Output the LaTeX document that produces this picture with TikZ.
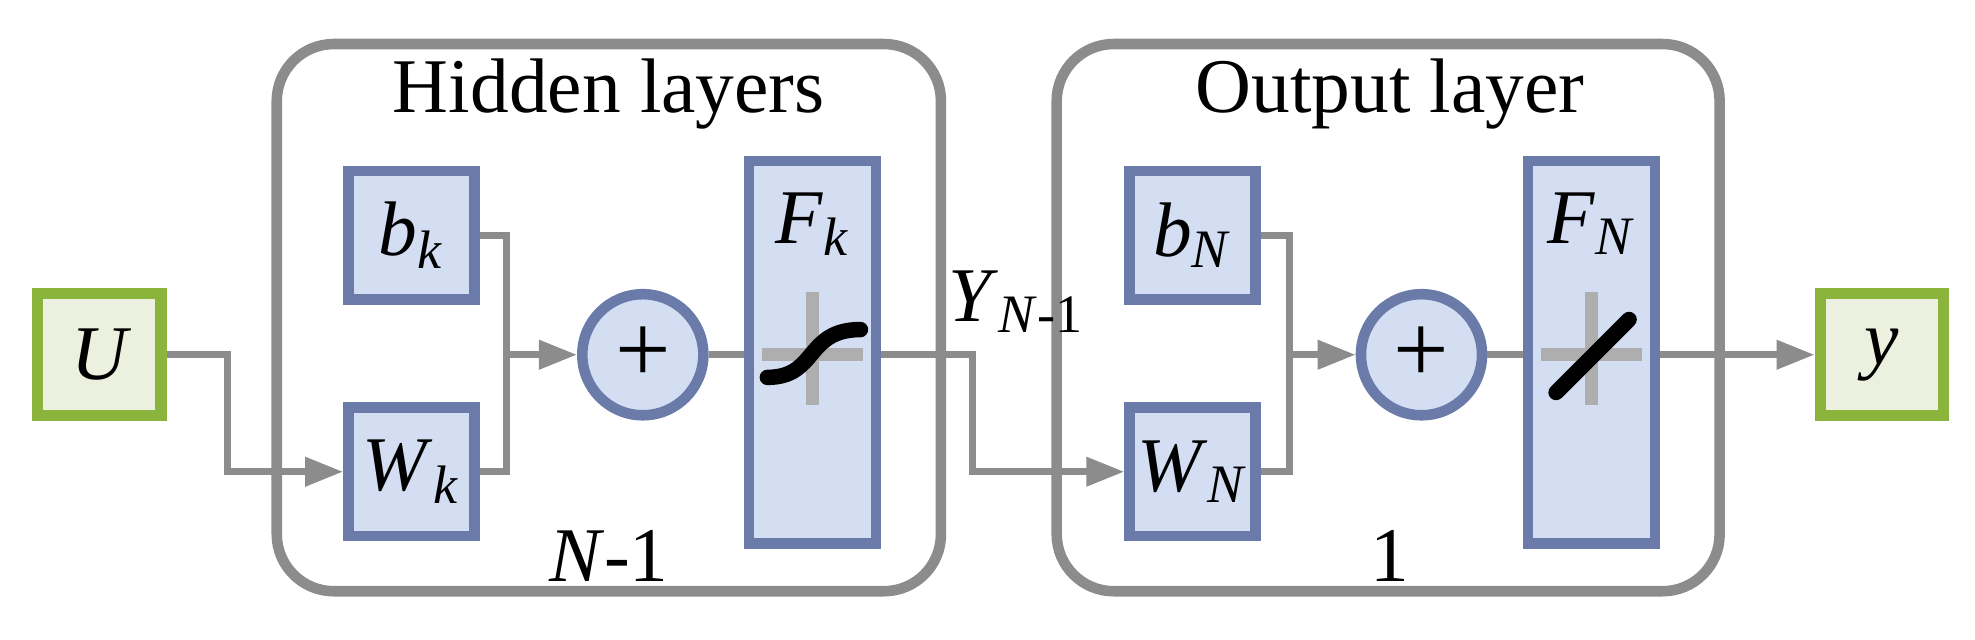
\documentclass[tikz,border=0pt]{standalone}
\usepackage{fontspec}
\setmainfont{Liberation Serif}
\usetikzlibrary{arrows.meta}
\definecolor{gborder}{HTML}{8AB43C}
\definecolor{gfill}{HTML}{EBF1DE}
\definecolor{bborder}{HTML}{6A7BAA}
\definecolor{bfill}{HTML}{D3DEF3}
\definecolor{lgray}{HTML}{8C8C8C}
\newcommand{\vl}[2]{\textit{#1}\textsubscript{\textit{#2}}}
\begin{document}
\begin{tikzpicture}[x=0.01258cm,y=-0.01258cm,
  io/.style={draw=gborder,fill=gfill,line width=3.2pt,minimum width=1.233cm,minimum height=1.22cm,inner sep=0pt,font=\fontsize{22}{26}\selectfont\itshape},
  blk/.style={draw=bborder,fill=bfill,line width=3pt,minimum width=1.258cm,minimum height=1.283cm,inner sep=0pt,font=\fontsize{22}{26}\selectfont},
  fn/.style={draw=bborder,fill=bfill,line width=3pt,minimum width=1.27cm,minimum height=3.82cm,inner sep=0pt},
  sum/.style={circle,draw=bborder,fill=bfill,line width=3pt,minimum size=1.21cm,inner sep=0pt,font=\fontsize{28}{30}\selectfont},
  layer/.style={draw=lgray,line width=3pt,rounded corners=0.57cm},
  con/.style={draw=lgray,line width=2pt},
  arr/.style={con,-{Triangle[length=0.38cm,width=0.28cm]}},
  ttl/.style={font=\fontsize{22}{26}\selectfont}]
\useasboundingbox (0,0) rectangle (1570,508);
\draw[layer] (220,35) rectangle (748,470);
\draw[layer] (840,35) rectangle (1367,470);
\node[ttl] (th) at (484,75) {Hidden layers};
\node[ttl] (to) at (1105,75) {Output layer};
\node[ttl] (n1) at (484,442) {\textit{N}-1};
\node[ttl] (one) at (1105,442) {1};
\node[io] (U) at (79,282) {U};
\node[io] (y) at (1496,282) {y};
\node[blk] (bk) at (327,187) {\vl{b}{k}};
\node[blk] (Wk) at (327,375) {\vl{W}{k}};
\node[sum] (s1) at (511,282) {+};
\node[fn] (Fk) at (646,280) {};
\node[ttl] at (646,178) {\vl{F}{k}};
\node[blk] (bN) at (948,187) {\vl{b}{N}};
\node[blk] (WN) at (948,375) {\vl{W}{N}};
\node[sum] (s2) at (1130,282) {+};
\node[fn] (FN) at (1265,280) {};
\node[ttl] at (1265,178) {\vl{F}{N}};
\node[ttl] (Y) at (808,240) {\textit{Y}\textsubscript{\textit{N}-1}};
% activation icons
\draw[lgray!70,line width=3.8pt] (606,282) -- (686,282) (646,232) -- (646,322);
\draw[black,line width=4.4pt,line cap=round] (610,300) .. controls (650,300) and (640,262) .. (684,262);
\draw[lgray!70,line width=3.8pt] (1225,282) -- (1305,282) (1265,232) -- (1265,322);
\draw[black,line width=4.4pt,line cap=round] (1237,312) -- (1295,254);
% connectors
\coordinate (c1) at (181,282);
\coordinate (c2) at (181,375);
\draw[arr] (U.east) -- (c1) -- (c2) -- (Wk.west);
\coordinate (j1) at (403,187);
\coordinate (j2) at (403,375);
\coordinate (j3) at (403,282);
\draw[con] (bk.east) -- (j1) -- (j2) -- (Wk.east);
\draw[arr] (j3) -- (s1.west);
\draw[con] (s1.east) -- (Fk.west |- s1.east);
\coordinate (c3) at (773,282);
\coordinate (c4) at (773,375);
\draw[arr] (Fk.east |- c3) -- (c3) -- (c4) -- (WN.west);
\coordinate (j4) at (1025,187);
\coordinate (j5) at (1025,375);
\coordinate (j6) at (1025,282);
\draw[con] (bN.east) -- (j4) -- (j5) -- (WN.east);
\draw[arr] (j6) -- (s2.west);
\draw[con] (s2.east) -- (FN.west |- s2.east);
\draw[arr] (FN.east |- s2.east) -- (y.west);
\end{tikzpicture}
\end{document}
